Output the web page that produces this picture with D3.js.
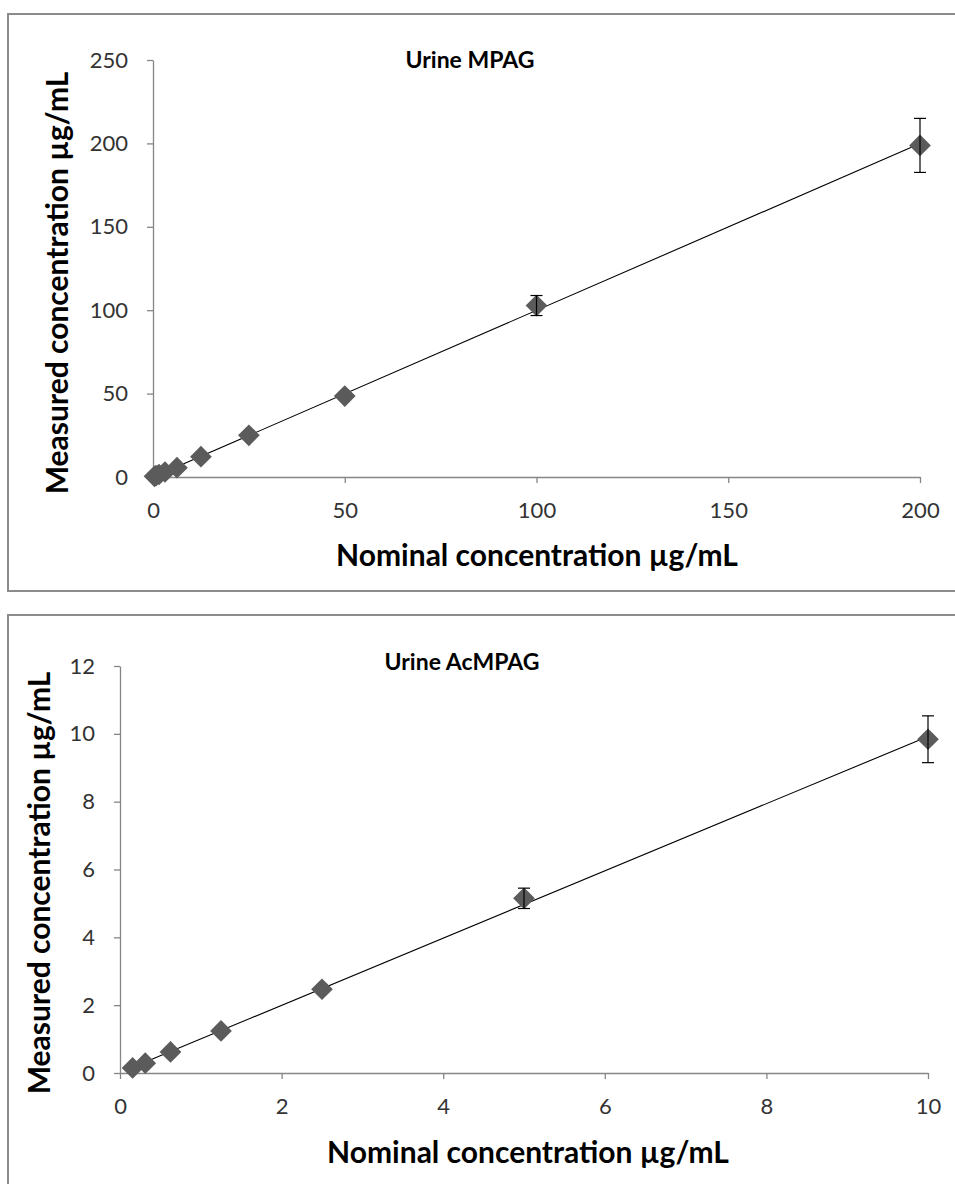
<!DOCTYPE html>
<html><head><meta charset="utf-8">
<script src="https://cdn.jsdelivr.net/npm/d3@7"></script>
<style>
body{margin:0;background:#fff;}
svg{display:block;font-family:Lato,"Open Sans",sans-serif;}
</style></head>
<body>
<svg id="c" width="955" height="1184"></svg>
<script>
// Panel 1: Urine MPAG
const mpagNominal  = [0.39, 0.78, 1.56, 3.125, 6.25, 12.5, 25, 50, 100, 200];
const mpagMeasured = [0.4, 0.8, 1.5, 3.0, 5.6, 12.2, 25.0, 48.5, 102.8, 198.8];
const mpagError    = [0.05, 0.1, 0.15, 0.3, 0.5, 1.0, 1.5, 3.0, 6.0, 16.2];
const mpagXTicks = [0, 50, 100, 150, 200];
const mpagYTicks = [0, 50, 100, 150, 200, 250];

// Panel 2: Urine AcMPAG
const acNominal  = [0.156, 0.3125, 0.625, 1.25, 2.5, 5, 10];
const acMeasured = [0.15, 0.29, 0.62, 1.24, 2.47, 5.15, 9.84];
const acError    = [0.02, 0.03, 0.05, 0.08, 0.15, 0.3, 0.69];
const acXTicks = [0, 2, 4, 6, 8, 10];
const acYTicks = [0, 2, 4, 6, 8, 10, 12];

const svg = d3.select("#c");

function panel(cfg){
  const g = svg.append("g");
  g.append("rect").attr("x", cfg.box[0]).attr("y", cfg.box[1])
    .attr("width", cfg.box[2]).attr("height", cfg.box[3])
    .attr("fill", "#fff").attr("stroke", "#8c8c8c").attr("stroke-width", 2);

  const x = d3.scaleLinear().domain(cfg.xDomain).range(cfg.xRange);
  const y = d3.scaleLinear().domain(cfg.yDomain).range(cfg.yRange);

  const xa = g.append("g").attr("transform", `translate(0,${cfg.yRange[0]})`)
    .call(d3.axisBottom(x).tickValues(cfg.xTicks).tickSize(6).tickPadding(19).tickSizeOuter(0));
  const ya = g.append("g").attr("transform", `translate(${cfg.xRange[0]},0)`)
    .call(d3.axisLeft(y).tickValues(cfg.yTicks).tickSize(6).tickPadding(19).tickSizeOuter(0));
  [xa, ya].forEach(a => {
    a.select(".domain").attr("stroke", "#868686").attr("stroke-width", 1.3);
    a.selectAll(".tick line").attr("stroke", "#868686").attr("stroke-width", 1.3);
    a.selectAll(".tick text").attr("fill", "#333").style("font-size", "22px")
      .style("font-family", "Lato, 'Open Sans', sans-serif");
  });

  // regression line from data (least squares)
  const n = cfg.nx.length;
  const mx = d3.mean(cfg.nx), my = d3.mean(cfg.my);
  let sxy = 0, sxx = 0;
  for (let i = 0; i < n; i++){ sxy += (cfg.nx[i]-mx)*(cfg.my[i]-my); sxx += (cfg.nx[i]-mx)**2; }
  const slope = sxy/sxx, icpt = my - slope*mx;
  const x0 = d3.min(cfg.nx), x1 = d3.max(cfg.nx);
  g.append("line").attr("x1", x(x0)).attr("y1", y(slope*x0+icpt))
    .attr("x2", x(x1)).attr("y2", y(slope*x1+icpt))
    .attr("stroke", "#000").attr("stroke-width", 1.1);

  const pts = cfg.nx.map((v,i) => ({x:v, y:cfg.my[i], e:cfg.err[i]}));
  const diam = d3.symbol().type(d3.symbolDiamond2).size(cfg.sym);
  g.selectAll(".pt").data(pts).join("path")
    .attr("transform", d => `translate(${x(d.x)},${y(d.y)})`)
    .attr("d", diam).attr("fill", "#5b5b5b");
  const eb = g.selectAll(".eb").data(pts.filter(d => y(d.y-d.e)-y(d.y+d.e) > 14)).join("g");
  eb.append("line").attr("x1", d=>x(d.x)).attr("x2", d=>x(d.x))
    .attr("y1", d=>y(d.y+d.e)).attr("y2", d=>y(d.y-d.e)).attr("stroke","#000").attr("stroke-width",1.2);
  eb.append("line").attr("x1", d=>x(d.x)-6).attr("x2", d=>x(d.x)+6)
    .attr("y1", d=>y(d.y+d.e)).attr("y2", d=>y(d.y+d.e)).attr("stroke","#000").attr("stroke-width",1.2);
  eb.append("line").attr("x1", d=>x(d.x)-6).attr("x2", d=>x(d.x)+6)
    .attr("y1", d=>y(d.y-d.e)).attr("y2", d=>y(d.y-d.e)).attr("stroke","#000").attr("stroke-width",1.2);

  g.append("text").attr("x", cfg.title[0]).attr("y", cfg.title[1]).attr("text-anchor","middle")
    .style("font-size","23px").style("font-weight","bold").attr("fill","#000").text(cfg.titleText);
  g.append("text").attr("x", cfg.xTitle[0]).attr("y", cfg.xTitle[1]).attr("text-anchor","middle")
    .style("font-size","30px").style("font-weight","bold").attr("fill","#000").text("Nominal concentration µg/mL");
  g.append("text").attr("transform", `translate(${cfg.yTitle[0]},${cfg.yTitle[1]}) rotate(-90)`)
    .attr("text-anchor","middle")
    .style("font-size","30px").style("font-weight","bold").attr("fill","#000").text("Measured concentration µg/mL");
}

panel({
  box:[8,14,960,577], xDomain:[0,200], xRange:[153,920], yDomain:[0,250], yRange:[477,60],
  xTicks:mpagXTicks, yTicks:mpagYTicks, nx:mpagNominal, my:mpagMeasured, err:mpagError,
  sym:300, title:[470,68], titleText:"Urine MPAG", xTitle:[537,566], yTitle:[68,283]
});
panel({
  box:[8,615,960,600], xDomain:[0,10], xRange:[120,928], yDomain:[0,12], yRange:[1073,666],
  xTicks:acXTicks, yTicks:acYTicks, nx:acNominal, my:acMeasured, err:acError,
  sym:300, title:[462,670], titleText:"Urine AcMPAG", xTitle:[528,1163], yTitle:[50,883]
});
</script>
</body></html>
